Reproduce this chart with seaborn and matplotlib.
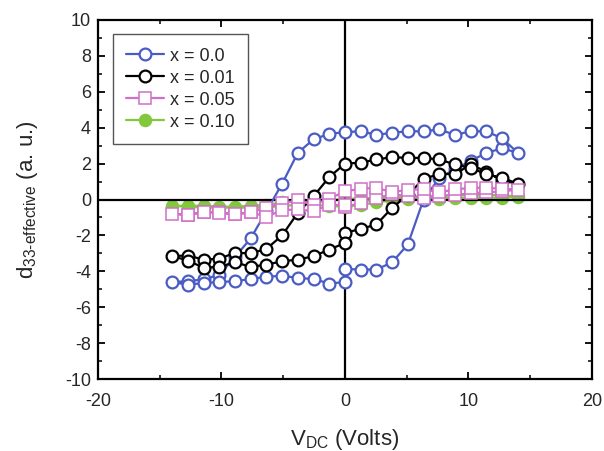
import matplotlib
matplotlib.use("Agg")
import matplotlib.pyplot as plt
from matplotlib.ticker import MultipleLocator
import pandas as pd
import seaborn as sns

# DC bias sweep: 0 -> +14 V, +14 -> -14 V, -14 -> 0 V
sweep_up = [0.0, 1.27, 2.55, 3.82, 5.09, 6.36, 7.64, 8.91, 10.18, 11.45, 12.73, 14.0]
sweep_down = [12.73, 11.45, 10.18, 8.91, 7.64, 6.36, 5.09, 3.82, 2.55, 1.27, 0.0,
              -1.27, -2.55, -3.82, -5.09, -6.36, -7.64, -8.91, -10.18, -11.45, -12.73, -14.0]
sweep_back = [-12.73, -11.45, -10.18, -8.91, -7.64, -6.36, -5.09, -3.82, -2.55, -1.27, 0.0]
v_dc = sweep_up + sweep_down + sweep_back

# effective d33 (a. u.) along the sweep for each composition
d33_x000 = ([-3.87, -3.9, -3.9, -3.5, -2.5, 0.0, 1.2, 1.7, 2.15, 2.6, 2.85, 2.6]
            + [3.4, 3.8, 3.8, 3.6, 3.9, 3.8, 3.8, 3.72, 3.6, 3.8, 3.75,
               3.66, 3.35, 2.6, 0.88, -0.65, -2.17, -3.2, -4.2, -4.45, -4.55, -4.6]
            + [-4.75, -4.65, -4.6, -4.55, -4.43, -4.3, -4.25, -4.37, -4.43, -4.68, -4.6])
d33_x001 = ([-1.86, -1.64, -1.39, -0.46, 0.25, 1.15, 1.42, 1.42, 1.95, 1.55, 1.05, 0.88]
            + [1.2, 1.4, 1.77, 1.95, 2.23, 2.32, 2.32, 2.36, 2.23, 2.05, 2.0,
               1.25, 0.18, -0.74, -2.0, -2.75, -3.0, -2.97, -3.3, -3.35, -3.12, -3.15]
            + [-3.4, -3.8, -3.75, -3.5, -3.75, -3.63, -3.44, -3.35, -3.16, -2.79, -2.42])
d33_x005 = ([-0.4, -0.2, 0.1, 0.28, 0.2, 0.1, 0.2, 0.25, 0.35, 0.4, 0.45, 0.55]
            + [0.6, 0.65, 0.65, 0.56, 0.4, 0.56, 0.55, 0.4, 0.65, 0.6, 0.45,
               0.05, -0.3, -0.05, -0.2, -0.45, -0.72, -0.82, -0.72, -0.68, -0.88, -0.78]
            + [-0.85, -0.7, -0.75, -0.8, -0.72, -0.95, -0.6, -0.55, -0.65, -0.3, -0.3])
d33_x010 = ([-0.4, -0.3, -0.15, -0.05, 0.05, 0.1, 0.05, 0.1, 0.1, 0.1, 0.1, 0.15]
            + [0.25, 0.25, 0.25, 0.25, 0.2, 0.2, 0.15, 0.1, 0.1, 0.05, 0.05,
               -0.05, -0.1, -0.1, -0.15, -0.3, -0.35, -0.4, -0.4, -0.35, -0.35, -0.35]
            + [-0.4, -0.45, -0.45, -0.45, -0.45, -0.45, -0.35, -0.3, -0.3, -0.35, -0.4])

labels = ["x = 0.0", "x = 0.01", "x = 0.05", "x = 0.10"]
series = [d33_x000, d33_x001, d33_x005, d33_x010]

styles = [
    dict(color="#4a5cc4", marker="o", markerfacecolor="white", markeredgewidth=1.6, zorder=2),
    dict(color="#000000", marker="o", markerfacecolor="white", markeredgewidth=1.6, zorder=3),
    dict(color="#d070c8", marker="s", markerfacecolor="white", markeredgewidth=1.1, zorder=4),
    dict(color="#82c83c", marker="o", markerfacecolor="#82c83c", markeredgewidth=1.2, zorder=1),
]

sns.set_theme(style="ticks")
plt.rcParams["font.family"] = ["Liberation Sans", "DejaVu Sans"]
plt.rcParams["mathtext.fontset"] = "custom"
plt.rcParams["mathtext.rm"] = "Liberation Sans"
plt.rcParams["mathtext.it"] = "Liberation Sans:italic"
plt.rcParams["mathtext.default"] = "regular"
plt.rcParams["axes.unicode_minus"] = False

fig = plt.figure(figsize=(6.04, 4.51), dpi=100)
ax = fig.add_axes([98 / 604, (451 - 379) / 451, 494 / 604, 359 / 451])

ax.axhline(0, color="black", lw=1.6, zorder=1.5)
ax.axvline(0, color="black", lw=1.6, zorder=1.5)

for lab, vals, st in zip(labels, series, styles):
    df = pd.DataFrame({"V": v_dc, "d33": vals})
    sns.lineplot(data=df, x="V", y="d33", sort=False, estimator=None, ax=ax,
                 color=st["color"], marker=st["marker"], markersize=8.5,
                 markerfacecolor=st["markerfacecolor"], markeredgecolor=st["color"],
                 markeredgewidth=st["markeredgewidth"], linewidth=1.6, label=lab,
                 zorder=st["zorder"])

ax.set_xlim(-20, 20)
ax.set_ylim(-10, 10)
ax.xaxis.set_major_locator(MultipleLocator(10))
ax.xaxis.set_minor_locator(MultipleLocator(5))
ax.yaxis.set_major_locator(MultipleLocator(2))
ax.yaxis.set_minor_locator(MultipleLocator(1))
ax.tick_params(which="both", direction="in", top=True, right=True, color="black")
ax.tick_params(which="major", length=5, width=1.3, labelsize=13, pad=5)
ax.tick_params(axis="x", which="major", pad=10)
ax.tick_params(which="minor", length=3, width=1.1)
for sp in ax.spines.values():
    sp.set_linewidth(1.6)
    sp.set_color("black")

ax.set_xlabel(r"V$_{\mathrm{DC}}$ (Volts)", fontsize=16, labelpad=12)
ax.set_ylabel(r"d$_{\text{33-effective}}$ (a. u.)", fontsize=16, labelpad=18)

leg = ax.legend(loc="upper left", bbox_to_anchor=(0.030, 0.961), fontsize=13,
                frameon=True, fancybox=False, framealpha=1, edgecolor="#555555",
                handlelength=2.1, labelspacing=0.28, borderpad=0.75, handletextpad=0.3,
                borderaxespad=0)
leg.get_frame().set_linewidth(1.0)

fig.savefig("out.png", dpi=100)
